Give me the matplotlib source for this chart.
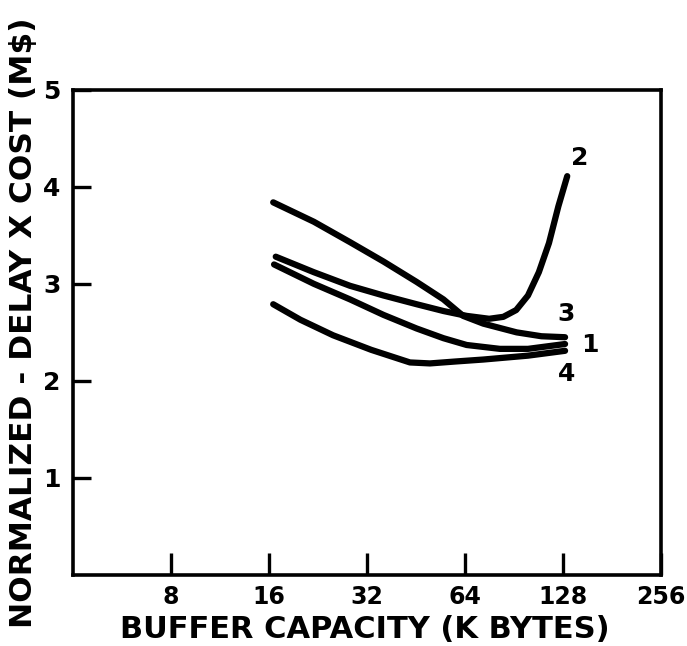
import matplotlib
matplotlib.use("Agg")
import matplotlib.pyplot as plt
from matplotlib.ticker import FixedLocator, FixedFormatter, NullLocator

# ---- data ----
x_ticks = [8, 16, 32, 64, 128, 256]
x_tick_labels = ["8", "16", "32", "64", "128", "256"]
y_ticks = [1, 2, 3, 4, 5]
y_tick_labels = ["1", "2", "3", "4", "5"]

curve1_x = [16.6, 22, 28.4, 36, 45.5, 55, 64.8, 82, 100, 130]
curve1_y = [3.20, 3.00, 2.84, 2.68, 2.54, 2.44, 2.37, 2.33, 2.33, 2.38]

curve2_x = [16.8, 22, 28.4, 36, 45.5, 55, 64.8, 76, 84, 92, 100, 108, 116, 124, 132]
curve2_y = [3.28, 3.12, 2.98, 2.88, 2.79, 2.72, 2.67, 2.64, 2.66, 2.73, 2.88, 3.12, 3.42, 3.80, 4.11]

curve3_x = [16.5, 22, 28.4, 36, 45.5, 55, 63.2, 72.9, 92.3, 110, 130]
curve3_y = [3.84, 3.64, 3.43, 3.23, 3.02, 2.84, 2.67, 2.59, 2.50, 2.46, 2.45]

curve4_x = [16.5, 20, 25.2, 33, 43.4, 50, 60, 72.9, 100, 130]
curve4_y = [2.79, 2.63, 2.47, 2.32, 2.19, 2.18, 2.20, 2.22, 2.26, 2.31]

curve_labels = ["1", "2", "3", "4"]
label_x = [155, 144, 131, 131]
label_y = [2.37, 4.30, 2.69, 2.07]

# ---- figure ----
fig = plt.figure(figsize=(6.87, 6.46), dpi=100)
ax = fig.add_axes([0.106, 0.110, 0.856, 0.751])

lw = 4.5
for xs, ys in [(curve1_x, curve1_y), (curve2_x, curve2_y),
               (curve3_x, curve3_y), (curve4_x, curve4_y)]:
    ax.plot(xs, ys, color="black", lw=lw, solid_capstyle="round",
            solid_joinstyle="round")

for t, lx, ly in zip(curve_labels, label_x, label_y):
    ax.text(lx, ly, t, fontsize=18, fontweight="bold", ha="center",
            va="center", family="DejaVu Sans")

ax.set_xscale("log", base=2)
ax.set_xlim(4, 256)
ax.set_ylim(0, 5)

ax.xaxis.set_major_locator(FixedLocator(x_ticks))
ax.xaxis.set_major_formatter(FixedFormatter(x_tick_labels))
ax.xaxis.set_minor_locator(NullLocator())
ax.yaxis.set_major_locator(FixedLocator(y_ticks))
ax.yaxis.set_major_formatter(FixedFormatter(y_tick_labels))
ax.yaxis.set_minor_locator(NullLocator())

ax.tick_params(axis="x", direction="in", length=16, width=2.4, pad=7,
               labelsize=17)
ax.tick_params(axis="y", direction="in", length=13, width=2.4, pad=9,
               labelsize=18)
for lab in ax.get_xticklabels() + ax.get_yticklabels():
    lab.set_fontweight("bold")

for sp in ax.spines.values():
    sp.set_linewidth(2.6)

fig.text(0.531, 0.026, "BUFFER CAPACITY (K BYTES)", fontsize=22,
         fontweight="bold", ha="center", va="center")
fig.text(0.034, 0.500, "NORMALIZED - DELAY X COST (M$)", fontsize=22.5,
         fontweight="bold", ha="center", va="center", rotation=90)

fig.savefig("out.png", dpi=100)
